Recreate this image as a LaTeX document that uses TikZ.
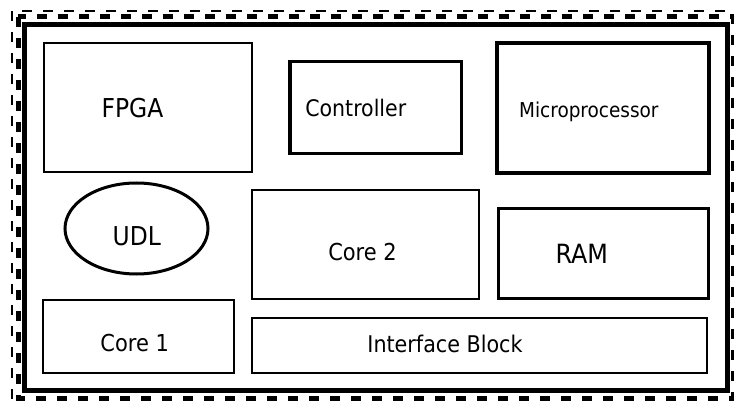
\documentclass[tikz,border=0pt]{standalone}
\usepackage{fontspec}
\setmainfont{DejaVu Sans Condensed}

\newcommand{\fsz}[1]{\fontsize{#1}{#1}\selectfont}
\tikzset{
  blk/.style={draw, line width=2pt},
  heavyblk/.style={draw, line width=3.5pt},
  lbl/.style={anchor=base, inner sep=0pt},
}

\begin{document}
\begin{tikzpicture}[x=1pt,y=-1pt]

\useasboundingbox (0,0) rectangle (734,401);

% chip outline
\draw[line width=1.5pt, dash pattern=on 10pt off 11pt] (12,11) rectangle (740,406);
\draw[line width=5pt, dash pattern=on 10pt off 11pt] (18,17) rectangle (733,398);
\draw[line width=5pt] (24.5,24.5) rectangle (727,390.5);

% blocks
\draw[blk] (43.5,43.5) rectangle (252.3,171.7);
\draw[heavyblk] (290,61.7) rectangle (461.7,153.3);
\draw[line width=4pt] (497.3,43.3) rectangle (709.3,172.7);
\draw[line width=3pt] (136.5,228.5) ellipse [x radius=71.5, y radius=45.5];
\draw[blk] (252.3,190.3) rectangle (479.3,299.3);
\draw[heavyblk] (498.3,208.3) rectangle (708.3,298.3);
\draw[blk] (43.3,300) rectangle (234,372.7);
\draw[blk] (252.3,318.3) rectangle (706.7,372.7);

\node[lbl, font=\fsz{26}] (fpga) at (132.5,117.3) {FPGA};
\node[lbl, font=\fsz{22.8}] (ctrl) at (355.8,116.7) {Controller};
\node[lbl, font=\fsz{20.5}] (mproc) at (588.8,117.3) {Microprocessor};
\node[lbl, font=\fsz{26}] (udl) at (136.7,245) {UDL};
\node[lbl, font=\fsz{26.5}] (ram) at (581.7,263.3) {RAM};
\node[lbl, font=\fsz{23.3}] (core2) at (362.5,260) {Core 2};
\node[lbl, font=\fsz{23.3}] (core1) at (134.7,351.7) {Core 1};
\node[lbl, font=\fsz{23}] (iface) at (445,352.7) {Interface Block};

\end{tikzpicture}
\end{document}
